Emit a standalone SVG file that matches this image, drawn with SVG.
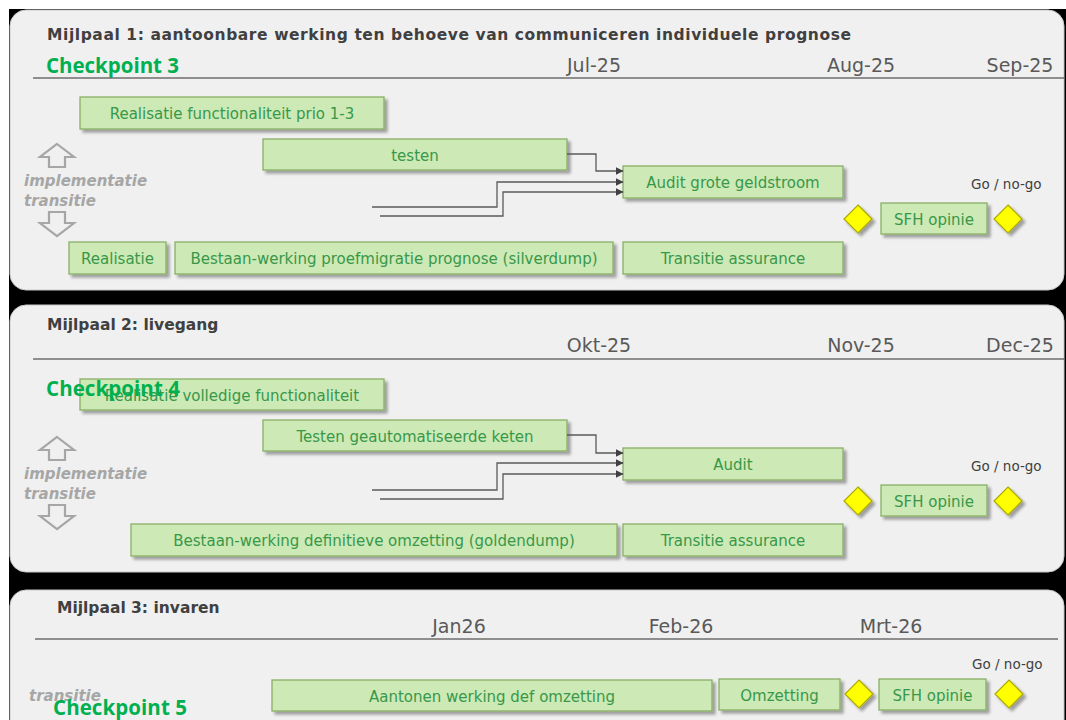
<svg xmlns="http://www.w3.org/2000/svg" width="1066" height="720" viewBox="0 0 1066 720">
<defs>
<style>
.panel{fill:#f0f0f0;stroke:#c8c8c8;stroke-width:1}
.title{font-family:"DejaVu Sans",Verdana,sans-serif;font-weight:bold;font-size:15.5px;fill:#404040}
.cp{font-family:"Open Sans","Liberation Sans",sans-serif;font-weight:700;font-size:20.5px;fill:#00b050}
.month{font-family:"DejaVu Sans",Verdana,sans-serif;font-size:19px;fill:#595959;text-anchor:middle}
.sep{stroke:#6e6e6e;stroke-width:1.6;fill:none}
.box rect{fill:#cde9b5;stroke:#88b066;stroke-width:1.3;filter:url(#sh)}
.box text{font-family:"DejaVu Sans",Verdana,sans-serif;font-size:15px;fill:#38984a;text-anchor:middle}
.dia{fill:#ffff00;stroke:#a8a800;stroke-width:1.2;filter:url(#sh)}
.gonogo{font-family:"DejaVu Sans",Verdana,sans-serif;font-size:13.5px;fill:#404040}
.side{font-family:"DejaVu Sans",Verdana,sans-serif;font-weight:bold;font-style:italic;font-size:15px;fill:#a6a6a6}
.harrow{fill:none;stroke:#a6a6a6;stroke-width:2.2;stroke-linejoin:miter}
.conn{fill:none;stroke:#5a5a5a;stroke-width:1.3}
</style>
<filter id="sh" x="-10%" y="-20%" width="130%" height="160%">
<feGaussianBlur in="SourceAlpha" stdDeviation="1.5"/>
<feOffset dx="2.5" dy="3" result="b"/>
<feComponentTransfer><feFuncA type="linear" slope="0.35"/></feComponentTransfer>
<feMerge><feMergeNode/><feMergeNode in="SourceGraphic"/></feMerge>
</filter>
<marker id="ah" markerWidth="8" markerHeight="8" refX="7.5" refY="4" orient="auto" markerUnits="userSpaceOnUse">
<path d="M0,0 L8,4 L0,8 Z" fill="#404040"/>
</marker>
</defs>
<rect x="0" y="0" width="1066" height="720" fill="#ffffff"/>
<rect x="9" y="9" width="1057" height="711" fill="#000000"/>

<!-- Panel 1 -->
<g id="panel1">
<rect class="panel" x="10" y="10" width="1054" height="280" rx="16"/>
<text class="title" x="47" y="40" textLength="804">Mijlpaal 1: aantoonbare werking ten behoeve van communiceren individuele prognose</text>
<text class="cp" x="46" y="73" textLength="133">Checkpoint 3</text>
<line class="sep" x1="33" y1="78" x2="1064" y2="78"/>
<text class="month" x="594" y="72">Jul-25</text>
<text class="month" x="861" y="72">Aug-25</text>
<text class="month" x="1020" y="72">Sep-25</text>
<polygon class="harrow" points="57,144 74,157 65,157 65,167 49,167 49,157 40,157"/>
<text class="side" x="24" y="186">implementatie</text>
<text class="side" x="24" y="206">transitie</text>
<polygon class="harrow" points="49,212 65,212 65,223 74,223 57,236 40,223 49,223"/>
<text class="gonogo" x="971" y="189">Go / no-go</text>
</g>
<g id="p1-realisatie-prio" class="box"><rect x="80" y="97" width="304" height="32"/><text x="232" y="118.5">Realisatie functionaliteit prio 1-3</text></g>
<g id="p1-testen" class="box"><rect x="263" y="139" width="304" height="31"/><text x="415" y="160.5">testen</text></g>
<g id="p1-audit" class="box"><rect x="623" y="166" width="220" height="32"/><text x="733" y="187.5">Audit grote geldstroom</text></g>
<g id="p1-realisatie" class="box"><rect x="69" y="242" width="97" height="32"/><text x="117.5" y="263.5">Realisatie</text></g>
<g id="p1-bestaan" class="box"><rect x="175" y="242" width="438" height="32"/><text x="394" y="263.5">Bestaan-werking proefmigratie prognose (silverdump)</text></g>
<g id="p1-transitie" class="box"><rect x="623" y="242" width="220" height="32"/><text x="733" y="263.5">Transitie assurance</text></g>
<g id="p1-sfh" class="box"><rect x="881" y="203" width="106" height="31"/><text x="934" y="224.5">SFH opinie</text></g>
<g id="p1-d1"><polygon class="dia" points="858,205 872,219 858,233 844,219"/></g>
<g id="p1-d2"><polygon class="dia" points="1008,205 1022,219 1008,233 994,219"/></g>

<!-- Panel 2 -->
<g id="panel2">
<rect class="panel" x="10" y="305" width="1054" height="267" rx="16"/>
<text class="title" x="47" y="330">Mijlpaal 2: livegang</text>
<line class="sep" x1="33" y1="359" x2="1064" y2="359"/>
<text class="month" x="599" y="352">Okt-25</text>
<text class="month" x="861" y="352">Nov-25</text>
<text class="month" x="1020" y="352">Dec-25</text>
<polygon class="harrow" points="57,437 74,450 65,450 65,460 49,460 49,450 40,450"/>
<text class="side" x="24" y="479">implementatie</text>
<text class="side" x="24" y="499">transitie</text>
<polygon class="harrow" points="49,505 65,505 65,516 74,516 57,529 40,516 49,516"/>
<text class="gonogo" x="971" y="471">Go / no-go</text>
</g>
<g id="p2-realisatie" class="box"><rect x="80" y="379" width="304" height="31"/><text x="232" y="400.5">Realisatie volledige functionaliteit</text></g>
<g id="p2-testen" class="box"><rect x="263" y="420" width="304" height="31"/><text x="415" y="441.5">Testen geautomatiseerde keten</text></g>
<g id="p2-audit" class="box"><rect x="623" y="448" width="220" height="32"/><text x="733" y="469.5">Audit</text></g>
<g id="p2-bestaan" class="box"><rect x="131" y="524" width="486" height="32"/><text x="374" y="545.5">Bestaan-werking definitieve omzetting (goldendump)</text></g>
<g id="p2-transitie" class="box"><rect x="623" y="524" width="220" height="32"/><text x="733" y="545.5">Transitie assurance</text></g>
<g id="p2-sfh" class="box"><rect x="881" y="485" width="106" height="31"/><text x="934" y="506.5">SFH opinie</text></g>
<g id="p2-d1"><polygon class="dia" points="858,487 872,501 858,515 844,501"/></g>
<g id="p2-d2"><polygon class="dia" points="1008,487 1022,501 1008,515 994,501"/></g>
<text class="cp" x="46" y="396" textLength="134">Checkpoint 4</text>

<!-- Panel 3 -->
<g id="panel3">
<rect class="panel" x="10" y="590" width="1054" height="150" rx="16"/>
<text class="title" x="57" y="613">Mijlpaal 3: invaren</text>
<line class="sep" x1="35" y1="639" x2="1058" y2="639"/>
<text class="month" x="459" y="633">Jan26</text>
<text class="month" x="681" y="633">Feb-26</text>
<text class="month" x="891" y="633">Mrt-26</text>
<text class="side" x="29" y="701">transitie</text>
<text class="gonogo" x="972" y="669">Go / no-go</text>
</g>
<g id="p3-aantonen" class="box"><rect x="272" y="680" width="440" height="31"/><text x="492" y="701.5">Aantonen werking def omzetting</text></g>
<g id="p3-omzetting" class="box"><rect x="719" y="679" width="121" height="31"/><text x="779.5" y="700.5">Omzetting</text></g>
<g id="p3-sfh" class="box"><rect x="879" y="679" width="107" height="31"/><text x="932.5" y="700.5">SFH opinie</text></g>
<g id="p3-d1"><polygon class="dia" points="859,680 873,694 859,708 845,694"/></g>
<g id="p3-d2"><polygon class="dia" points="1009,680 1023,694 1009,708 995,694"/></g>
<text class="cp" x="53" y="715" textLength="134">Checkpoint 5</text>

<!-- Connectors -->
<g id="connectors">
<polyline class="conn" points="567,154 596,154 596,171 623,171" marker-end="url(#ah)"/>
<polyline class="conn" points="372,207 497,207 497,182 623,182" marker-end="url(#ah)"/>
<polyline class="conn" points="380,216 503,216 503,192 623,192" marker-end="url(#ah)"/>
<polyline class="conn" points="567,435 596,435 596,453 623,453" marker-end="url(#ah)"/>
<polyline class="conn" points="372,490 497,490 497,463 623,463" marker-end="url(#ah)"/>
<polyline class="conn" points="380,499 503,499 503,474 623,474" marker-end="url(#ah)"/>
</g>
</svg>
